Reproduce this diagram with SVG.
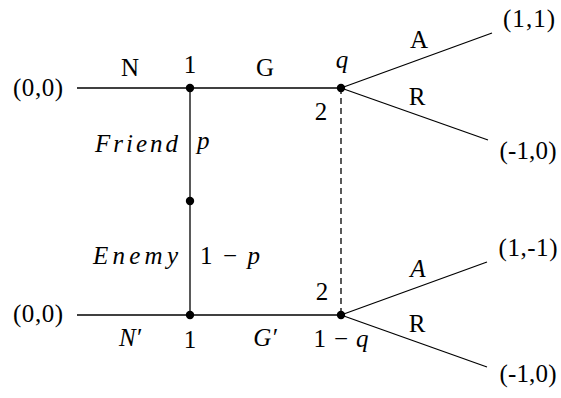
<svg xmlns="http://www.w3.org/2000/svg" width="561" height="398" viewBox="0 0 561 398">
<style>
.e{stroke:#000;stroke-width:1.3;fill:none}
.d{stroke:#000;stroke-width:1.3;fill:none;stroke-dasharray:6 4}
.n{fill:#000}
.t{font-family:'Liberation Serif',serif;font-size:25px;fill:#000}
.m{text-anchor:middle}
.s{text-anchor:start}
.en{text-anchor:end}
.i{font-style:italic}
</style>
<rect width="561" height="398" fill="#fff"/>
<g id="connectors">
<line class="e" x1="77" y1="88" x2="341" y2="88"/>
<line class="e" x1="77" y1="315" x2="341" y2="315"/>
<line class="e" x1="190" y1="88" x2="190" y2="315"/>
<line class="d" x1="341" y1="88" x2="341" y2="315"/>
<line class="e" x1="341" y1="88" x2="492" y2="33"/>
<line class="e" x1="341" y1="88" x2="488" y2="140"/>
<line class="e" x1="341" y1="315" x2="487" y2="262"/>
<line class="e" x1="341" y1="315" x2="487" y2="367"/>
<g class="t">
<text class="m" x="130" y="76">N</text>
<text class="m" x="265" y="76">G</text>
<text class="m" x="419" y="48">A</text>
<text class="m" x="417" y="105">R</text>
<text class="en i" x="178" y="152" textLength="83" lengthAdjust="spacing">Friend</text>
<text class="s i" x="197" y="149">p</text>
<text class="en i" x="178" y="264" textLength="85" lengthAdjust="spacing">Enemy</text>
<text class="s" x="200" y="264" textLength="60" lengthAdjust="spacing">1 − <tspan class="i">p</tspan></text>
<text class="m i" x="130" y="346">N′</text>
<text class="m i" x="265" y="346">G′</text>
<text class="m i" x="418" y="277">A</text>
<text class="m" x="417" y="332">R</text>
</g>
</g>
<g id="root-top" class="t">
<text class="m" x="38" y="96" textLength="50" lengthAdjust="spacing">(0,0)</text>
</g>
<g id="root-bottom" class="t">
<text class="m" x="38" y="322" textLength="50" lengthAdjust="spacing">(0,0)</text>
</g>
<g id="node-1-top" class="t">
<circle class="n" cx="190" cy="88" r="4.2"/>
<text class="m" x="190" y="73">1</text>
</g>
<g id="node-chance">
<circle class="n" cx="190" cy="201" r="4.2"/>
</g>
<g id="node-1-bottom" class="t">
<circle class="n" cx="190" cy="315" r="4.2"/>
<text class="m" x="190" y="348">1</text>
</g>
<g id="node-2-top" class="t">
<circle class="n" cx="341" cy="88" r="4.2"/>
<text class="m i" x="342" y="68">q</text>
<text class="m" x="321" y="120">2</text>
</g>
<g id="node-2-bottom" class="t">
<circle class="n" cx="341" cy="315" r="4.2"/>
<text class="m" x="322" y="300">2</text>
<text class="m" x="341" y="347" textLength="55" lengthAdjust="spacing">1 − <tspan class="i">q</tspan></text>
</g>
<g id="payoff-1" class="t">
<text class="m" x="529" y="27" textLength="52" lengthAdjust="spacing">(1,1)</text>
</g>
<g id="payoff-2" class="t">
<text class="m" x="528" y="159" textLength="57" lengthAdjust="spacing">(-1,0)</text>
</g>
<g id="payoff-3" class="t">
<text class="m" x="528" y="256" textLength="59" lengthAdjust="spacing">(1,-1)</text>
</g>
<g id="payoff-4" class="t">
<text class="m" x="528" y="382" textLength="57" lengthAdjust="spacing">(-1,0)</text>
</g>
</svg>
